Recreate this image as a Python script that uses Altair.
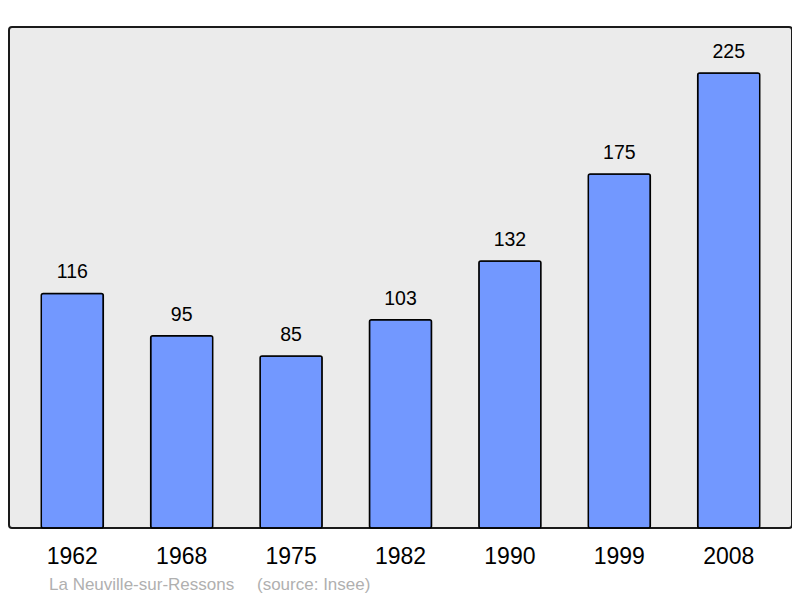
import altair as alt
import pandas as pd

years = ["1962", "1968", "1975", "1982", "1990", "1999", "2008"]
population = [116, 95, 85, 103, 132, 175, 225]
commune = "La Neuville-sur-Ressons"
source = "(source: Insee)"

df = pd.DataFrame({"year": years, "pop": population})

x = alt.X("year:N", sort=years,
          scale=alt.Scale(paddingInner=0.433, paddingOuter=0.295),
          axis=alt.Axis(title=None, labelAngle=0, domain=False, ticks=False,
                        labelFontSize=23, labelColor="black", labelPadding=17,
                        labelFont="Liberation Sans", grid=False))
y = alt.Y("pop:Q", scale=alt.Scale(domain=[0, 247.7], nice=False, zero=True),
          axis=None)

bars = alt.Chart(df).mark_bar(color="#7298ff", stroke="black", strokeWidth=1.5,
                              cornerRadius=2).encode(x=x, y=y)

labels = alt.Chart(df).mark_text(fontSize=19.5, font="Liberation Sans", color="black",
                                 baseline="alphabetic", dy=-15).encode(
    x=alt.X("year:N", sort=years), y="pop:Q", text="pop:Q")

foot = pd.DataFrame({"t": [commune, source], "px": [40, 248]})
footnote = alt.Chart(foot).mark_text(fontSize=17, font="Liberation Sans", color="#b0b0b0",
                                     align="left", baseline="alphabetic").encode(
    x=alt.X("px:Q", scale=None), y=alt.value(563), text="t:N")

chart = alt.layer(bars, labels, footnote).properties(
    width=783, height=501,
    padding={"left": 1, "top": 19, "right": 0, "bottom": 70},
    autosize=alt.AutoSizeParams(type="none"),
    background="white",
).configure_view(
    fill="#ebebeb", stroke="#1a1a1a", strokeWidth=2, cornerRadius=3
)

chart.save("out.html", embed_options={"renderer": "svg", "actions": False})
